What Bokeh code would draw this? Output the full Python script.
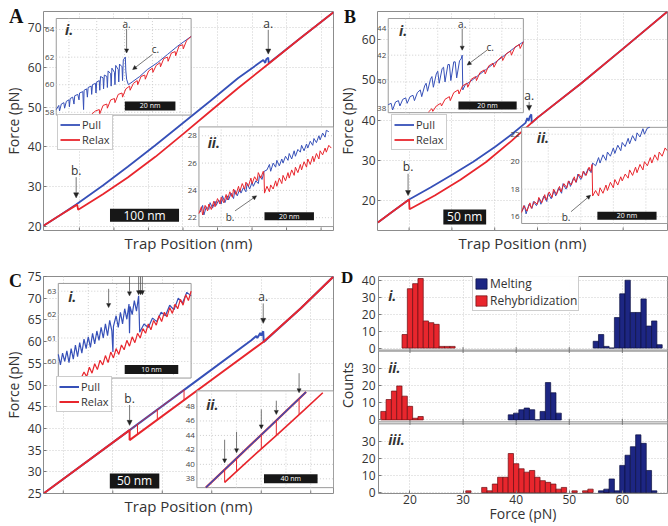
import math
from bokeh.plotting import figure
from bokeh.models import Range1d, FixedTicker, Arrow, NormalHead, Legend, LegendItem, Title
from bokeh.layouts import row, column
from bokeh.embed import file_html
from bokeh.resources import INLINE
from bokeh.core.properties import value

# ---------------- data ----------------
# Panel A main curves (trap position nm, force pN)
a_pull_x = [-2, 22.4, 45.8, 84, 120, 160, 200, 240, 280, 316.3, 319.2, 320.6, 323.5, 324.2, 370.8, 418]
a_pull_f = [20.2, 22.9, 25.6, 30.3, 35.0, 40.4, 46.0, 51.6, 57.3, 61.8, 61.1, 62.0, 62.4, 61.0, 67.4, 73.8]
a_relax_x = [-2, 22.4, 46.8, 48.2, 84, 120, 160, 200, 240, 280, 325, 370.8, 418]
a_relax_f = [20.2, 22.9, 25.5, 24.2, 28.1, 32.3, 37.5, 43.2, 49.0, 54.8, 61.0, 67.4, 73.8]
# Panel A inset i
ai_blue_x = [0,1,1.3,2,3,3.3,4,5,5.2,5.5,6.5,7,7.3,8.5,9,9.2,10.5,10.8,11,12,12.3,12.6,13.8,14,14.3,15.5,15.7,16,17,17.2,17.5,18.5,18.7,19,20,20.2,20.5,21.5,21.7,22,23,23.2,23.5,24.5,24.7,25,26,26.2,26.5,27.3,27.5,27.8,28.5,30,33,36,40,44,48,53.3]
ai_blue_f = [58.2,58.5,58.1,58.6,58.7,58.3,58.8,58.9,58.4,59.0,59.1,58.6,59.2,59.3,58.9,59.4,59.5,58.2,59.6,59.7,59.1,59.8,59.9,59.3,60.0,60.1,59.4,60.2,60.3,59.6,60.6,60.5,59.7,60.7,60.6,59.8,61.0,60.8,59.9,61.2,60.9,60.0,61.4,61.1,60.2,61.5,61.3,60.3,61.8,62.0,61.0,60.4,60.0,60.2,60.6,61.1,61.6,62.2,62.8,63.5]
ai_red_x = [13.2,14,14.2,15.5,17,17.2,18.5,20,20.2,21.5,23,23.2,24.5,26,26.2,27.5,29,29.2,30.5,32,32.2,33.5,35,35.2,36.5,38,38.2,39.5,41,41.2,42.5,44,44.2,45.5,47,47.2,48.5,50,50.2,51.5,53.3]
ai_red_f = [57.85,57.8,57.9,58.1,58.2,57.9,58.5,58.6,58.3,58.9,59.0,58.7,59.3,59.4,59.1,59.7,59.9,59.6,60.1,60.3,60.0,60.6,60.7,60.4,61.0,61.2,60.9,61.4,61.6,61.3,61.9,62.0,61.7,62.3,62.4,62.1,62.8,62.9,62.6,63.2,63.5]
# Panel A inset ii
aii_blue_x = [0.5,1.5,2,3,4,4.5,5.5,6.5,7,8,9,9.5,10.5,11.5,12,13,14,14.5,15.5,16.5,17,18,19,19.5,20.5,21.5,22,23,24,24.5,25.5,26.4,27.5,28.5,29,30,31,31.5,32.5,33.5,34,35,36,36.5,37.5,38.5,39,40,41,41.5,42.5,43.5,44,45,46,46.5,47.5,48.5,49,50,51,51.5,52.5]
aii_blue_f = [22.4,22.9,22.2,22.8,22.6,23.1,22.7,23.2,22.9,23.3,23.0,23.6,23.1,23.6,23.3,23.8,23.4,24.0,23.6,24.1,23.8,24.2,23.9,24.5,24.1,24.6,24.3,24.7,24.5,25.1,24.8,25.4,25.5,25.9,25.4,26.0,25.7,26.2,25.8,26.3,26.0,26.5,26.2,26.7,26.3,26.9,26.5,27.0,26.8,27.3,26.9,27.4,27.1,27.6,27.3,27.8,27.5,28.0,27.7,28.2,27.9,28.4,28.3]
aii_red_x = [0,1,1.5,2.5,3.5,4,5,6,6.5,7.5,8.5,9,10,11,11.5,12.5,13.5,14,15,16,16.5,17.5,18.5,19,20,21,21.5,22.5,23.5,24,25,26,26.3,26.5,27.5,28.5,29,30,31,31.5,32.5,33.5,34,35,36,36.5,37.5,38.5,39,40,41,41.5,42.5,43.5,44,45,46,46.5,47.5,48.5,49,50,51,51.5,52.5,53.5]
aii_red_f = [22.3,22.8,22.2,22.9,22.5,23.0,22.6,23.2,22.8,23.4,23.0,23.5,23.1,23.7,23.3,23.9,23.5,24.1,23.7,24.3,23.9,24.5,24.1,24.6,24.3,24.9,24.5,25.0,24.7,25.3,24.9,25.4,25.2,23.8,24.3,23.9,24.4,24.1,24.7,24.3,24.9,24.5,25.1,24.7,25.3,24.9,25.5,25.1,25.7,25.3,25.9,25.5,26.1,25.7,26.3,25.9,26.5,26.1,26.7,26.3,26.9,26.6,27.1,26.8,27.3,27.1]

# Panel B main curves
b_pull_x = [13.5, 30, 50, 75, 100.7, 125, 150.6, 170, 186, 188, 189.5, 191, 192.8, 193.2, 200, 250.4, 300, 351.8]
b_pull_f = [14.6, 17.2, 20.3, 23.3, 26.5, 29.7, 33.4, 36.5, 39.3, 40.5, 39.8, 40.9, 41.4, 39.3, 40.6, 49.0, 57.7, 66.9]
b_relax_x = [13.5, 30, 50, 50.5, 80, 110, 140, 170, 193, 200, 250.4, 300, 351.8]
b_relax_f = [14.6, 17.2, 20.3, 17.9, 21.3, 25.2, 29.6, 34.9, 39.3, 40.6, 49.0, 57.7, 66.9]
# Panel B inset i
bi_blue_x = [0,1,1.5,2.5,3.5,4,5,6,6.5,7.5,8.5,9,10,11,11.5,12.5,13,13.5,14.5,15,15.5,16.5,17,17.5,18.5,19,19.5,20.5,21,21.5,22.5,23,23.5,24.5,25,25.4,25.6,26.5,28,31,34,37,40,43,46.4]
bi_blue_f = [38.3,38.4,37.9,38.5,38.6,38.2,38.7,38.8,38.4,38.9,39.0,38.6,39.2,39.4,38.9,39.7,39.9,39.3,40.2,40.4,39.6,40.6,40.8,39.9,41.0,41.1,40.0,41.3,41.3,40.1,41.5,41.5,40.3,41.6,41.7,42.0,39.4,39.8,40.0,40.5,41.0,41.5,42.0,42.5,43.0]
bi_red_x = [13.8,15,15.3,16.5,18,18.3,19.5,21,21.3,22.5,24,24.3,25.5,27,27.3,28.5,30,30.3,31.5,33,33.3,34.5,36,36.3,37.5,39,39.3,40.5,42,42.3,43.5,45,45.3,46.4]
bi_red_f = [37.75,38.0,37.8,38.2,38.4,38.2,38.7,38.9,38.6,39.2,39.4,39.1,39.7,39.9,39.6,40.2,40.4,40.1,40.7,40.9,40.6,41.2,41.4,41.1,41.6,41.9,41.6,42.1,42.3,42.0,42.6,42.8,42.5,43.0]
# Panel B inset ii
bii_blue_x = [0.2,1,1.5,2.5,3.5,4,5,6,6.5,7.5,8.5,9,10,11,11.5,12.5,13.5,14,15,16,16.5,17.5,18.5,19,20,21,21.5,22.5,23.5,24,25,26,26.5,27.5,28.5,29,30,31,31.5,32.5,33.5,34,35,36,36.5,37.5,38.5,39,40,41,41.5,42.5,43.3]
bii_blue_f = [16.4,16.8,16.2,16.9,16.6,17.1,16.8,17.3,16.9,17.5,17.1,17.7,17.3,17.9,17.5,18.1,17.7,18.4,18.0,18.6,18.2,18.8,18.5,19.1,18.7,19.3,19.0,19.5,19.2,19.9,19.7,20.3,19.9,20.5,20.1,20.7,20.4,21.0,20.6,21.2,20.8,21.4,21.1,21.7,21.3,21.9,21.5,22.1,21.8,22.4,22.0,22.45,22.5]
bii_red_x = [0,0.7,1.8,2.8,3.3,4.3,5.3,5.8,6.8,7.8,8.3,9.3,10.3,10.8,11.8,12.8,13.3,14.3,15.3,15.8,16.8,17.8,18.3,19.3,20.3,20.8,21.8,22.8,23.3,23.8,24.0,25,26,26.5,27.5,28.5,29,30,31,31.5,32.5,33.5,34,35,36,36.5,37.5,38.5,39,40,41,41.5,42.5,43.5,44,45,46,46.5,47.5,48.5,49.2]
bii_red_f = [16.3,16.8,16.4,17.0,16.6,17.1,16.9,17.4,17.0,17.6,17.2,17.8,17.4,18.0,17.6,18.2,17.8,18.4,18.1,18.6,18.3,18.9,18.5,19.1,18.8,19.3,19.0,19.6,19.3,19.8,17.5,17.9,17.5,18.1,17.7,18.3,17.9,18.5,18.1,18.7,18.3,18.9,18.6,19.1,18.8,19.4,19.0,19.6,19.2,19.8,19.4,20.0,19.7,20.3,19.9,20.5,20.1,20.7,20.4,21.0,20.8]

# Panel C main curves
c_pull_x = [30, 117, 180, 240, 245, 246, 249, 250, 252, 252.5, 290, 323]
c_pull_f = [25.0, 39.6, 50.2, 60.3, 61.3, 60.8, 62.0, 61.4, 62.4, 59.9, 67.7, 75.0]
c_relax_x = [323, 290, 252, 200, 117, 117, 30]
c_relax_f = [75.0, 67.7, 59.9, 51.2, 37.3, 39.6, 25.0]
c_relax_upper_x = [117, 172]
c_relax_upper_f = [39.6, 48.9]
c_step_x = [125, 145, 172]
c_step_top = [41.0, 44.3, 48.9]
c_step_bottom = [38.6, 42.0, 46.5]
# Panel C inset i
ci_blue_x = [0.0,0.4,0.8,1.2,1.6,2.0,2.4,2.8,3.2,3.6,4.0,4.4,4.8,5.2,5.6,6.0,6.4,6.8,7.2,7.6,8.0,8.4,8.8,9.2,9.6,10.0,10.2,10.3,10.8,11.2,11.6,12.0,12.4,12.8,13.2,13.3,13.4,13.8,14.2,14.6,15.0,15.2,16.0,16.8,17.6,18.4,19.2,20.0,20.8,21.6,22.4,23.2,24.0,24.8]
ci_blue_f = [60.30,59.85,60.35,60.00,60.45,59.95,60.55,60.10,60.70,60.20,60.80,60.35,60.95,60.55,61.05,60.60,61.20,60.75,61.30,60.90,61.45,61.00,61.60,61.10,61.75,61.30,60.40,61.50,61.95,61.45,62.10,61.60,62.25,61.80,62.45,61.20,62.35,62.00,62.60,62.15,62.80,61.25,61.60,61.45,61.85,61.70,62.10,61.95,62.40,62.20,62.70,62.50,62.95,62.80]
ci_red_x = [4.3,4.8,5.3,5.8,6.3,6.8,7.3,7.8,8.3,8.8,9.3,9.8,10.3,10.8,11.3,11.8,12.3,12.8,13.3,13.8,14.3,14.8,15.3,15.8,16.3,16.8,17.3,17.8,18.3,18.8,19.3,19.8,20.3,20.8,21.3,21.8,22.3,22.8,23.3,23.8,24.3,24.8]
ci_red_f = [59.30,59.55,59.35,59.75,59.50,59.90,59.65,60.05,59.85,60.25,59.95,60.40,60.15,60.55,60.30,60.70,60.50,60.90,60.65,61.05,60.80,61.20,61.00,61.40,61.20,61.60,61.35,61.75,61.55,61.95,61.70,62.10,61.90,62.30,62.05,62.45,62.25,62.65,62.40,62.85,62.60,63.00]
ci_arrow_x = [9.4, 13.3, 15.0, 15.35, 15.7]
ci_arrow_start = [63.1, 63.9, 63.9, 63.9, 63.9]
ci_arrow_end = [62.3, 62.8, 62.85, 62.85, 62.85]
# Panel C inset ii
cii_upper_x = [6.7, 30, 55, 81.5]
cii_upper_f = [36.8, 40.9, 45.3, 50.0]
cii_lower_x = [20.7, 40, 60, 80, 94]
cii_lower_f = [37.5, 40.8, 44.1, 47.5, 49.9]
cii_step_x = [20.7, 29.6, 48.1, 59.3, 76.3]
cii_step_top = [39.3, 40.8, 44.1, 46.1, 49.1]
cii_step_bottom = [37.5, 39.0, 42.1, 44.0, 46.9]
cii_arrow_start = [43.4, 44.5, 47.6, 48.8, 52.6]
cii_arrow_end = [40.2, 41.6, 44.9, 46.9, 49.9]

# Panel D histograms (bin centres in pN, counts)
d1_red_c = [19, 20, 21, 22, 23, 24, 25, 26, 27, 28]
d1_red_n = [8, 35, 38, 41, 16, 15, 14, 1, 1, 1]
d1_blue_c = [55, 56, 57, 58, 59, 60, 61, 62, 63, 64, 65, 66, 67]
d1_blue_n = [4, 8, 1, 0, 18, 32, 40, 21, 21, 29, 13, 16, 2]
d2_red_c = [15, 16, 17, 18, 19, 20, 21, 22]
d2_red_n = [5, 12, 17, 20, 14, 8, 1, 2]
d2_blue_c = [39, 40, 41, 42, 43, 44, 45, 46, 47, 48]
d2_blue_n = [3, 4, 6, 7, 6, 0, 5, 22, 16, 4]
d3_red_c = [31, 34, 35, 36, 37, 38, 39, 40, 41, 42, 43, 44, 45, 46, 47, 48, 49, 51, 53, 54, 57]
d3_red_n = [1, 3, 1, 5, 9, 9, 23, 17, 14, 12, 13, 9, 7, 6, 5, 2, 3, 1, 1, 2, 1]
d3_blue_c = [56, 57, 58, 59, 60, 61, 62, 63, 64, 65, 66]
d3_blue_n = [1, 2, 8, 1, 16, 22, 27, 34, 29, 13, 1]
d_xticks = [20, 30, 40, 50, 60]
d1_yticks = [0, 10, 20, 30, 40]
d2_yticks = [0, 10, 20, 30]
d3_yticks = [0, 10, 20, 30]

# ---------------- styling ----------------
FONT = "Open Sans"
BLUE = "#3650b8"
RED = "#e8262d"
NAVY = "#1d2683"
GRIDC = "#cdcdcd"
FRAME = "#8c8c8c"
TXT = "#333333"


def style_axes(p):
    p.outline_line_color = FRAME
    p.outline_line_width = 1
    p.grid.grid_line_color = GRIDC
    p.grid.grid_line_dash = "1 2"
    p.axis.axis_line_color = None
    p.axis.major_tick_in = 3
    p.axis.major_tick_out = 0
    p.axis.minor_tick_line_color = None
    p.axis.major_tick_line_color = "#777777"
    p.axis.major_label_text_font = FONT
    p.axis.major_label_text_font_size = "12px"
    p.axis.major_label_text_color = TXT
    p.axis.axis_label_text_font = FONT
    p.axis.axis_label_text_font_style = "normal"
    p.axis.axis_label_text_color = TXT


def base_fig(w, h, xr, yr, bl, bt, bb, br, xticks, yticks, xlabel, ylabel):
    p = figure(width=w, height=h, x_range=Range1d(*xr), y_range=Range1d(*yr),
               output_backend="svg", toolbar_location=None,
               min_border_left=bl, min_border_top=bt, min_border_bottom=bb, min_border_right=br)
    p.yaxis.ticker = FixedTicker(ticks=yticks)
    p.xgrid.ticker = FixedTicker(ticks=xticks)
    p.ygrid.ticker = FixedTicker(ticks=yticks)
    style_axes(p)
    p.xaxis.visible = False
    p.yaxis.axis_label_text_font_size = "14px"
    p.yaxis.major_label_standoff = 2
    p.yaxis.axis_label_standoff = 2
    p.yaxis.axis_label = ylabel
    # bottom axis title (the x tick values are not labelled in the reference)
    p.add_layout(Title(text=xlabel, align="center", text_font=FONT, text_font_size="15px",
                       text_font_style="normal", text_color=TXT, standoff=0, offset=0), "below")
    # short inward tick marks on the bottom edge
    p.scatter(x=xticks, y=[yr[0]] * len(xticks), marker="dash", angle=math.pi / 2, size=6,
              line_color="#777777", line_width=1)
    return p


def inset(p, name, frac, xr, yr, xg, yt):
    fx0, fx1, fy0, fy1 = frac
    dx = (xr[1] - xr[0]) / (fx1 - fx0)
    dy = (yr[1] - yr[0]) / (fy1 - fy0)
    xs = xr[0] - fx0 * dx
    ys = yr[0] - fy0 * dy
    p.extra_x_ranges[name] = Range1d(xs, xs + dx)
    p.extra_y_ranges[name] = Range1d(ys, ys + dy)
    kw = dict(x_range_name=name, y_range_name=name)
    p.quad(left=[xr[0]], right=[xr[1]], bottom=[yr[0]], top=[yr[1]],
           fill_color="white", line_color="#9a9a9a", line_width=1, **kw)
    p.segment(x0=xg, x1=xg, y0=[yr[0]] * len(xg), y1=[yr[1]] * len(xg),
              line_color=GRIDC, line_dash="1 2", line_width=1, **kw)
    p.segment(x0=[xr[0]] * len(yt), x1=[xr[1]] * len(yt), y0=yt, y1=yt,
              line_color=GRIDC, line_dash="1 2", line_width=1, **kw)
    p.text(x=[xr[0]] * len(yt), y=yt, text=[str(v) for v in yt], x_offset=-2,
           text_align="right", text_baseline="middle", text_font=value(FONT),
           text_font_size="8px", text_color="#444444", **kw)
    return kw


def scalebar(p, x, y, w, hpx, label, fs, kw=None):
    kw = kw or {}
    p.rect(x=[x], y=[y], width=w, height=hpx, height_units="screen",
           fill_color="#171717", line_color=None, **kw)
    p.text(x=[x], y=[y], text=[label], text_align="center", text_baseline="middle",
           text_color="white", text_font=value(FONT), text_font_size=fs, **kw)


def arrow(p, x0, y0, x1, y1, kw=None, size=5):
    kw = kw or {}
    p.add_layout(Arrow(x_start=x0, y_start=y0, x_end=x1, y_end=y1, line_color="#555555",
                       line_width=0.8,
                       end=NormalHead(size=size, fill_color="#222222", line_color="#222222", line_width=0.5),
                       **kw))


def txt(p, x, y, s, fs="12px", style="normal", kw=None, align="center"):
    kw = kw or {}
    p.text(x=[x], y=[y], text=[s], text_align=align, text_baseline="middle",
           text_font=value(FONT), text_font_size=fs, text_font_style=style,
           text_color="#333333", **kw)


def letter_fig(s, left, top, fs):
    f = figure(width=30, height=30, x_range=Range1d(0, 1), y_range=Range1d(0, 1),
               output_backend="svg", toolbar_location=None, title=None,
               x_axis_location=None, y_axis_location=None, min_border=0,
               styles={"position": "absolute", "left": f"{left}px", "top": f"{top}px"})
    f.outline_line_color = None
    f.background_fill_alpha = 0
    f.border_fill_alpha = 0
    f.grid.visible = False
    f.text(x=[0.02], y=[0.5], text=[s], text_align="left", text_baseline="middle",
           text_font=value("Liberation Serif"), text_font_style="bold",
           text_font_size=f"{fs}px", text_color="#111111")
    return f


def legend_pull_relax(p, rb, rr, loc):
    leg = Legend(items=[LegendItem(label="Pull", renderers=[rb]), LegendItem(label="Relax", renderers=[rr])],
                 location=loc)
    leg.label_text_font = FONT
    leg.label_text_font_size = "11px"
    leg.label_text_color = TXT
    leg.glyph_width = 20
    leg.glyph_height = 11
    leg.label_height = 11
    leg.label_standoff = 2
    leg.spacing = 0
    leg.padding = 2
    leg.margin = 0
    leg.border_line_color = "#9a9a9a"
    leg.background_fill_alpha = 1.0
    p.add_layout(leg)


# ---------------- Panel A ----------------
pA = base_fig(334, 252, (-2, 418), (19.0, 74.0), 40, 10, 20, 1,
              [50, 100, 150, 200, 250, 300, 350, 400], [20, 30, 40, 50, 60, 70],
              "Trap Position (nm)", "Force (pN)")
rb = pA.line(a_pull_x, a_pull_f, line_color=BLUE, line_width=1.8)
rr = pA.line(a_relax_x, a_relax_f, line_color=RED, line_width=1.8)
txt(pA, 323.5, 71.0, "a.")
arrow(pA, 323.5, 69.4, 323.5, 63.3)
txt(pA, 45.3, 34.0, "b.")
arrow(pA, 45.3, 32.4, 45.3, 27.2)
scalebar(pA, 144.3, 22.85, 100, 13, "100 nm", "12px")
legend_pull_relax(pA, rb, rr, (14, 80))

k = inset(pA, "ai", (0.044, 0.509, 0.527, 0.968), (0, 53.3), (57.8, 64.8),
          [5, 16, 27, 38, 49], [58, 60, 62, 64])
pA.line(ai_blue_x, ai_blue_f, line_color=BLUE, line_width=1, **k)
pA.line(ai_red_x, ai_red_f, line_color=RED, line_width=1, **k)
txt(pA, 5.1, 64.0, "i.", "14px", "bold italic", k)
txt(pA, 27.8, 64.4, "a.", "10px", kw=k)
arrow(pA, 27.8, 64.05, 27.8, 62.3, k, 4)
txt(pA, 39.2, 62.6, "c.", "10px", kw=k)
arrow(pA, 38.0, 62.2, 30.2, 61.1, k, 4)
scalebar(pA, 37.1, 58.46, 20, 9, "20 nm", "7px", k)

k = inset(pA, "aii", (0.536, 1.0, 0.018, 0.473), (0, 54.4), (21.35, 28.65),
          [9, 20.5, 32, 43.5], [22, 24, 26, 28])
pA.line(aii_blue_x, aii_blue_f, line_color=BLUE, line_width=1, **k)
pA.line(aii_red_x, aii_red_f, line_color=RED, line_width=1, **k)
txt(pA, 6.0, 27.5, "ii.", "14px", "bold italic", k)
txt(pA, 12.6, 22.07, "b.", "10px", kw=k)
arrow(pA, 14.6, 22.5, 23.3, 23.6, k, 4)
scalebar(pA, 36.5, 22.1, 20, 8, "20 nm", "7px", k)

# ---------------- Panel B ----------------
pB = base_fig(334, 252, (13.1, 351.8), (12.64, 66.9), 39, 11, 20, 1,
              [50, 100, 150, 200, 250, 300], [20, 30, 40, 50, 60],
              "Trap Position (nm)", "Force (pN)")
rb2 = pB.line(b_pull_x, b_pull_f, line_color=BLUE, line_width=1.8)
rr2 = pB.line(b_relax_x, b_relax_f, line_color=RED, line_width=1.8)
txt(pB, 190.2, 46.0, "a.")
arrow(pB, 190.2, 44.5, 190.2, 42.4)
txt(pB, 48.8, 28.4, "b.")
arrow(pB, 48.8, 26.7, 48.8, 21.3)
scalebar(pB, 115, 16.0, 50, 15, "50 nm", "12px")
legend_pull_relax(pB, rb2, rr2, (14, 80))

k = inset(pB, "bi", (0.037, 0.503, 0.538, 0.968), (0, 46.4), (37.7, 44.74),
          [6, 17, 28, 39], [38, 40, 42, 44])
pB.line(bi_blue_x, bi_blue_f, line_color=BLUE, line_width=1, **k)
pB.line(bi_red_x, bi_red_f, line_color=RED, line_width=1, **k)
txt(pB, 5.1, 43.85, "i.", "14px", "bold italic", k)
txt(pB, 25.4, 44.35, "a.", "10px", kw=k)
arrow(pB, 25.4, 43.98, 25.4, 42.37, k, 4)
txt(pB, 35.0, 42.6, "c.", "10px", kw=k)
arrow(pB, 33.9, 42.37, 27.1, 41.26, k, 4)
scalebar(pB, 34.1, 38.24, 20, 8, "20 nm", "7px", k)

k = inset(pB, "bii", (0.497, 1.0, 0.032, 0.471), (0, 49.3), (15.5, 22.5),
          [9, 20, 31, 42], [16, 18, 20, 22])
pB.line(bii_blue_x, bii_blue_f, line_color=BLUE, line_width=1, **k)
pB.line(bii_red_x, bii_red_f, line_color=RED, line_width=1, **k)
txt(pB, 7.2, 21.77, "ii.", "14px", "bold italic", k)
txt(pB, 15.0, 16.0, "b.", "10px", kw=k)
arrow(pB, 16.7, 16.36, 23.3, 17.56, k, 4)
scalebar(pB, 35.6, 16.06, 20, 8, "20 nm", "7px", k)

# ---------------- Panel C ----------------
pC = base_fig(334, 273, (30, 323), (25, 75), 40, 22, 29, 1,
              [50, 100, 150, 200, 250, 300], [25, 30, 35, 40, 45, 50, 55, 60, 65, 70, 75],
              "Trap Position (nm)", "Force (pN)")
rb3 = pC.line(c_pull_x, c_pull_f, line_color=BLUE, line_width=2)
rr3 = pC.line(c_relax_x, c_relax_f, line_color=RED, line_width=2)
pC.line(c_relax_upper_x, c_relax_upper_f, line_color=RED, line_width=1, line_alpha=0.8)
pC.segment(x0=c_step_x, x1=c_step_x, y0=c_step_top, y1=c_step_bottom, line_color=RED, line_width=1)
txt(pC, 252, 70.3, "a.")
arrow(pC, 252, 68.8, 252, 64.2)
txt(pC, 117, 47.0, "b.")
arrow(pC, 117, 45.4, 117, 40.7)
scalebar(pC, 122, 27.9, 50, 15, "50 nm", "12px")
legend_pull_relax(pC, rb3, rr3, (13, 81))

k = inset(pC, "ci", (0.051, 0.509, 0.532, 0.968), (0, 24.8), (59.29, 63.33),
          [5.6, 10.9, 16.2, 21.5], [60, 61, 62, 63])
pC.line(ci_blue_x, ci_blue_f, line_color=BLUE, line_width=1.2, **k)
pC.line(ci_red_x, ci_red_f, line_color=RED, line_width=1.2, **k)
for xa, ya, yb in zip(ci_arrow_x, ci_arrow_start, ci_arrow_end):
    arrow(pC, xa, ya, xa, yb, k, 4)
txt(pC, 1.85, 62.76, "i.", "14px", "bold italic", k, "left")
scalebar(pC, 17.4, 59.66, 10, 9, "10 nm", "7px", k)

k = inset(pC, "cii", (0.529, 1.0, 0.027, 0.473), (0, 102), (36.78, 50.16),
          [11, 29.5, 48, 66.5, 85], [38, 40, 42, 44, 46, 48])
pC.line(cii_upper_x, cii_upper_f, line_color=RED, line_width=2.2, **k)
pC.line(cii_upper_x, cii_upper_f, line_color=BLUE, line_width=1.4, **k)
pC.line(cii_lower_x, cii_lower_f, line_color=RED, line_width=1.6, **k)
pC.segment(x0=cii_step_x, x1=cii_step_x, y0=cii_step_top, y1=cii_step_bottom,
           line_color=RED, line_width=1, **k)
for xa, ya, yb in zip(cii_step_x, cii_arrow_start, cii_arrow_end):
    arrow(pC, xa, ya, xa, yb, k, 4)
txt(pC, 6.9, 48.3, "ii.", "14px", "bold italic", k, "left")
scalebar(pC, 70.1, 38.0, 40, 9, "40 nm", "7px", k)

# ---------------- Panel D (three stacked histograms) ----------------
# sub-panel placement: (bottom fraction, top fraction, count at bottom, count at top)
D_SUB = {"d1": (0.661, 1.0, -1.16, 42.2), "d2": (0.330, 0.656, -1.16, 40.5), "d3": (0.0, 0.321, -0.58, 40.5)}
pD = figure(width=334, height=273, x_range=Range1d(14.07, 68.5), y_range=Range1d(0, 1),
            output_backend="svg", toolbar_location=None,
            min_border_left=39, min_border_right=1, min_border_top=24, min_border_bottom=29)
for name, (f0, f1, lo, hi) in D_SUB.items():
    span = (hi - lo) / (f1 - f0)
    start = lo - f0 * span
    pD.extra_y_ranges[name] = Range1d(start, start + span)
tick_pos = []
overrides = {}
for name, tks in (("d1", d1_yticks), ("d2", d2_yticks), ("d3", d3_yticks)):
    f0, f1, lo, hi = D_SUB[name]
    for t in tks:
        fr = round(f0 + (t - lo) / (hi - lo) * (f1 - f0), 5)
        tick_pos.append(fr)
        overrides[fr] = str(t)
pD.xaxis.ticker = FixedTicker(ticks=d_xticks)
pD.xgrid.ticker = FixedTicker(ticks=d_xticks)
pD.yaxis.ticker = FixedTicker(ticks=tick_pos)
pD.ygrid.ticker = FixedTicker(ticks=tick_pos)
pD.yaxis.major_label_overrides = overrides
style_axes(pD)
pD.axis.axis_label_text_font_size = "14px"
pD.yaxis.major_label_standoff = 3
pD.yaxis.axis_label_standoff = 2
pD.xaxis.major_label_standoff = 1
pD.xaxis.axis_label_standoff = -3
pD.yaxis.axis_label = "Counts"
pD.xaxis.axis_label = "Force (pN)"

# gaps between the three stacked boxes
pD.quad(left=[14.07, 14.07], right=[68.5, 68.5], bottom=[0.321, 0.656], top=[0.330, 0.661],
        fill_color="white", line_color=FRAME, line_width=1)
# inward x ticks on the bottom edge of the upper two boxes
pD.scatter(x=d_xticks * 2, y=[0.330] * len(d_xticks) + [0.661] * len(d_xticks), marker="dash",
           angle=math.pi / 2, size=6, line_color="#777777", line_width=1)


def bars(p, centres, counts, fill, line, name):
    return p.quad(left=[c - 0.5 for c in centres], right=[c + 0.5 for c in centres],
                  bottom=0, top=counts, fill_color=fill, line_color=line, line_width=0.7,
                  y_range_name=name)


rq = bars(pD, d1_red_c, d1_red_n, RED, "#6a0f12", "d1")
bq = bars(pD, d1_blue_c, d1_blue_n, NAVY, "#0b1040", "d1")
bars(pD, d2_red_c, d2_red_n, RED, "#6a0f12", "d2")
bars(pD, d2_blue_c, d2_blue_n, NAVY, "#0b1040", "d2")
bars(pD, d3_red_c, d3_red_n, RED, "#6a0f12", "d3")
bars(pD, d3_blue_c, d3_blue_n, NAVY, "#0b1040", "d3")
txt(pD, 15.9, 31, "i.", "14px", "bold italic", dict(y_range_name="d1"), "left")
txt(pD, 15.9, 31, "ii.", "14px", "bold italic", dict(y_range_name="d2"), "left")
txt(pD, 15.9, 31, "iii.", "14px", "bold italic", dict(y_range_name="d3"), "left")
legD = Legend(items=[LegendItem(label="Melting", renderers=[bq]),
                     LegendItem(label="Rehybridization", renderers=[rq])], location=(94, 182))
legD.label_text_font = FONT
legD.label_text_font_size = "12px"
legD.label_text_color = TXT
legD.glyph_width = 14
legD.glyph_height = 13
legD.label_height = 13
legD.label_standoff = 2
legD.spacing = 0
legD.padding = 1
legD.margin = 0
legD.border_line_color = "#9a9a9a"
pD.add_layout(legD)

# panel letters
lA = letter_fig("A", 8, 0, 20)
lB = letter_fig("B", 343, 1, 18)
lC = letter_fig("C", 8, 265, 18)
lD = letter_fig("D", 340, 262, 17)

layout = column(row(pA, pB), row(pC, pD), lA, lB, lC, lD,
                styles={"position": "relative"})
open("out.html", "w").write(file_html(layout, INLINE))
